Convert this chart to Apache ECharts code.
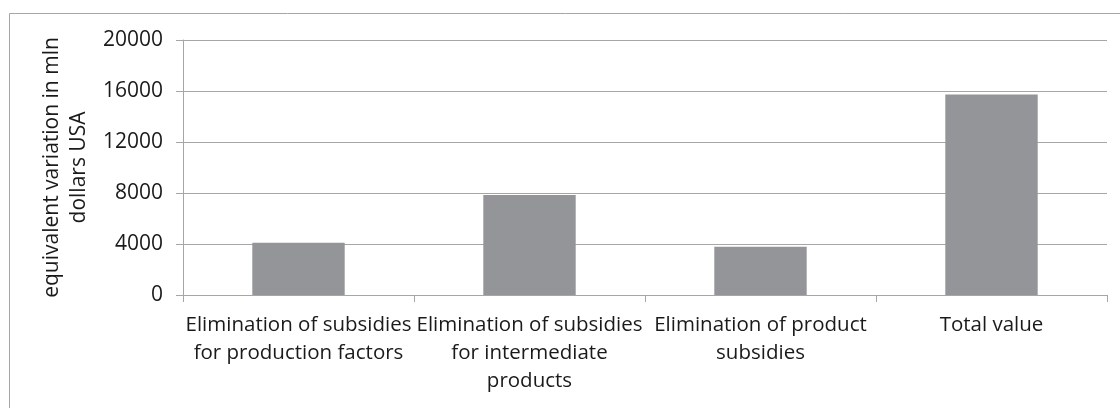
<!DOCTYPE html>
<html>
<head>
<meta charset="utf-8">
<script src="https://cdn.jsdelivr.net/npm/echarts@6/dist/echarts.min.js"></script>
<style>
html,body{margin:0;padding:0;background:#fff;}
#chart{width:1120px;height:408px;}
</style>
</head>
<body>
<div id="chart"></div>
<script>
const categories = [
  "Elimination of subsidies\nfor production factors",
  "Elimination of subsidies\nfor intermediate\nproducts",
  "Elimination of product\nsubsidies",
  "Total value"
];
const values = [4100, 7850, 3780, 15730];
const yTicks = { min: 0, max: 20000, interval: 4000 };
const yAxisName = "equivalent variation in mln\ndollars USA";

const FONT = "'Open Sans', 'Liberation Sans', sans-serif";
const chart = echarts.init(document.getElementById('chart'), null, { renderer: 'canvas' });
chart.setOption({
  animation: false,
  backgroundColor: '#ffffff',
  graphic: [{
    type: 'rect',
    shape: { x: 9.5, y: 13.5, width: 1200, height: 500 },
    style: { fill: 'none', stroke: '#a6a6a6', lineWidth: 1 },
    silent: true
  }],
  grid: { left: 183, right: 13, top: 40, bottom: 113, containLabel: false },
  xAxis: {
    type: 'category',
    data: categories,
    boundaryGap: true,
    axisLine: { show: true, lineStyle: { color: '#a6a6a6', width: 1 } },
    axisTick: { show: true, alignWithLabel: false, length: 7, lineStyle: { color: '#a6a6a6' } },
    axisLabel: {
      interval: 0, margin: 16, color: '#1a1a1a',
      fontFamily: FONT, fontSize: 20.5, lineHeight: 28, align: 'center'
    }
  },
  yAxis: {
    type: 'value',
    min: yTicks.min, max: yTicks.max, interval: yTicks.interval,
    name: yAxisName,
    nameLocation: 'middle',
    nameGap: 90,
    nameRotate: 90,
    nameTextStyle: { color: '#1a1a1a', fontFamily: FONT, fontSize: 21, lineHeight: 27, align: 'center' },
    axisLine: { show: true, lineStyle: { color: '#a6a6a6', width: 1 } },
    axisTick: { show: true, length: 7, lineStyle: { color: '#a6a6a6' } },
    axisLabel: {
      margin: 20, color: '#1a1a1a', fontFamily: FONT, fontSize: 21,
      formatter: function (v) { return String(v); }
    },
    splitLine: { show: true, lineStyle: { color: '#a6a6a6', width: 1 } }
  },
  series: [{
    type: 'bar',
    data: values,
    barWidth: '40%',
    itemStyle: { color: '#939598' }
  }]
});
</script>
</body>
</html>
